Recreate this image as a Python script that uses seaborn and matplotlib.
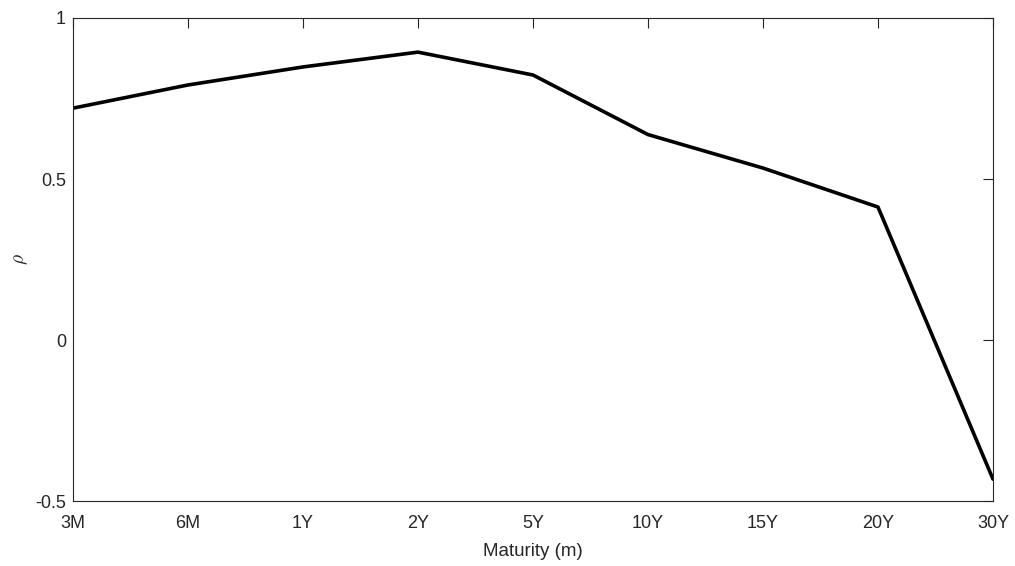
import matplotlib
matplotlib.use("Agg")
import matplotlib.pyplot as plt
import seaborn as sns
import pandas as pd

maturities = ["3M", "6M", "1Y", "2Y", "5Y", "10Y", "15Y", "20Y", "30Y"]
rho = [0.720, 0.792, 0.848, 0.894, 0.823, 0.638, 0.534, 0.413, -0.432]
y_ticks = [-0.5, 0, 0.5, 1]
y_tick_labels = ["-0.5", "0", "0.5", "1"]

sns.set_theme(style="white")
plt.rcParams["font.family"] = ["Liberation Sans", "DejaVu Sans"]
plt.rcParams["mathtext.fontset"] = "cm"

df = pd.DataFrame({"pos": range(len(maturities)), "rho": rho})

fig = plt.figure(figsize=(10.15, 5.66), dpi=100)
ax = fig.add_axes([0.0719, 0.1148, 0.9064, 0.8534])
sns.lineplot(data=df, x="pos", y="rho", color="black", linewidth=2.6, ax=ax)

ax.set_xlim(0, len(maturities) - 1)
ax.set_ylim(-0.5, 1)
ax.set_xticks(range(len(maturities)))
ax.set_xticklabels(maturities)
ax.set_yticks(y_ticks)
ax.set_yticklabels(y_tick_labels)

edge = "#262626"
for s in ax.spines.values():
    s.set_color(edge)
    s.set_linewidth(0.8)
ax.tick_params(direction="in", length=7, width=0.8, color=edge, labelcolor=edge,
               labelsize=13, top=True, right=True)
ax.tick_params(axis="x", pad=10)
ax.tick_params(axis="y", pad=5)

ax.set_xlabel("Maturity (m)", fontsize=13.5, color=edge, labelpad=8)
ax.set_ylabel(r"$\rho$", fontsize=14, color=edge)
ax.yaxis.set_label_coords(-0.047, 0.5)

fig.savefig("out.png", dpi=100)
